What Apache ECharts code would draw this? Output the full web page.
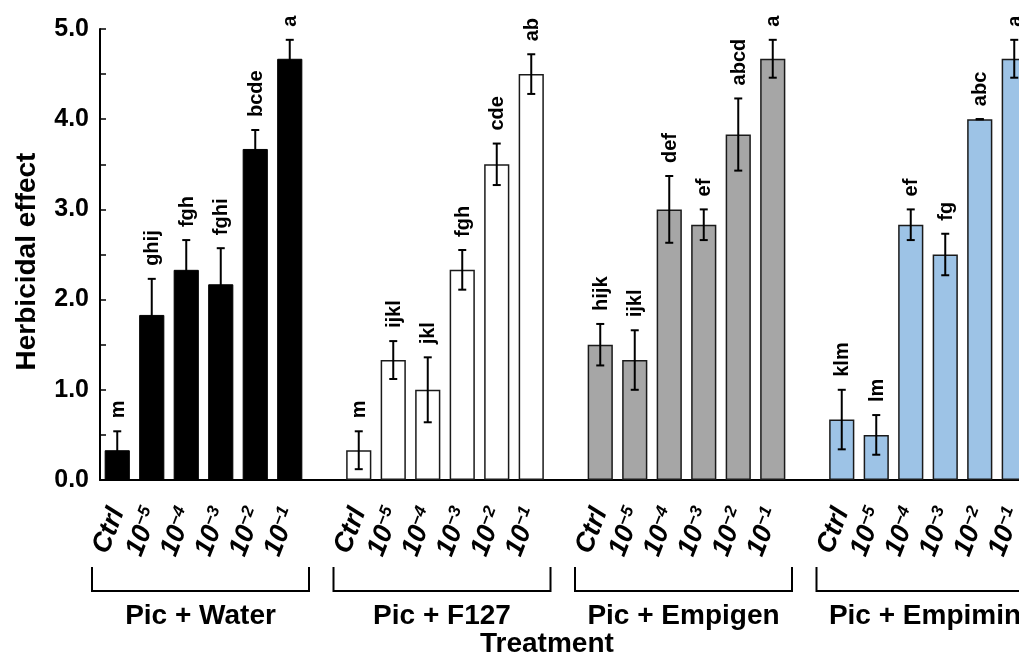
<!DOCTYPE html>
<html>
<head>
<meta charset="utf-8">
<script src="https://cdn.jsdelivr.net/npm/echarts@6/dist/echarts.min.js"></script>
<style>
  html, body { margin: 0; padding: 0; background: #fff; }
  #chart { width: 1019px; height: 664px; }
</style>
</head>
<body>
<div id="chart"></div>
<script>
// ---- Data ----
const groups = ['Pic + Water', 'Pic + F127', 'Pic + Empigen', 'Pic + Empimin'];
const doseLabels = ['Ctrl', '10^−5', '10^−4', '10^−3', '10^−2', '10^−1'];
const yTicks = [0, 1, 2, 3, 4, 5];

const waterMean = [0.33, 1.83, 2.33, 2.17, 3.67, 4.67];
const waterErr = [0.21, 0.40, 0.33, 0.40, 0.21, 0.21];
const waterLetters = ['m', 'ghij', 'fgh', 'fghi', 'bcde', 'a'];

const f127Mean = [0.33, 1.33, 1.00, 2.33, 3.50, 4.50];
const f127Err = [0.21, 0.21, 0.36, 0.22, 0.23, 0.22];
const f127Letters = ['m', 'ijkl', 'jkl', 'fgh', 'cde', 'ab'];

const empigenMean = [1.50, 1.33, 3.00, 2.83, 3.83, 4.67];
const empigenErr = [0.23, 0.33, 0.37, 0.17, 0.40, 0.21];
const empigenLetters = ['hijk', 'ijkl', 'def', 'ef', 'abcd', 'a'];

const empiminMean = [0.67, 0.50, 2.83, 2.50, 4.00, 4.67];
const empiminErr = [0.33, 0.22, 0.17, 0.23, 0.00, 0.21];
const empiminLetters = ['klm', 'lm', 'ef', 'fg', 'abc', 'a'];

// ---- Build ----
const means = [waterMean, f127Mean, empigenMean, empiminMean];
const errs = [waterErr, f127Err, empigenErr, empiminErr];
const letters = [waterLetters, f127Letters, empigenLetters, empiminLetters];

const groupStyles = [
  { color: '#000000', borderColor: '#000000', borderWidth: 1 },
  { color: '#ffffff', borderColor: '#1a1a1a', borderWidth: 1.5 },
  { color: '#a6a6a6', borderColor: '#1a1a1a', borderWidth: 1.5 },
  { color: '#9dc3e6', borderColor: '#1a1a1a', borderWidth: 1.5 }
];

const categories = [];
const barData = [];
const errData = [];
const errLetters = [];
const bracketData = [];
groups.forEach((g, gi) => {
  const first = categories.length;
  doseLabels.forEach((d, di) => {
    const idx = categories.length;
    categories.push(d);
    barData.push({ value: means[gi][di], itemStyle: groupStyles[gi] });
    errData.push([idx, means[gi][di], errs[gi][di]]);
    errLetters.push(letters[gi][di]);
  });
  bracketData.push([first, categories.length - 1]);
  if (gi < groups.length - 1) {
    categories.push('');
    barData.push('-');
  }
});

const FONT = '"Liberation Sans", Arial, sans-serif';

const chart = echarts.init(document.getElementById('chart'), null, { renderer: 'canvas' });

const option = {
  animation: false,
  backgroundColor: '#ffffff',
  grid: {
    left: 100, top: 29, bottom: 184, width: 931.5,
    containLabel: false, outerBoundsMode: 'none'
  },
  xAxis: {
    type: 'category',
    data: categories,
    boundaryGap: true,
    axisLine: { show: true, lineStyle: { color: '#000', width: 2 } },
    axisTick: { show: false },
    axisLabel: {
      interval: 0,
      rotate: 69,
      margin: 29,
      color: '#000',
      formatter: function (v) {
        if (!v) return '';
        const parts = v.split('^');
        if (parts.length === 1) return '{b|' + v + '}';
        return '{b|' + parts[0] + '}{s|' + parts[1] + '}';
      },
      rich: {
        b: { fontFamily: FONT, fontSize: 27, fontWeight: 'bold', fontStyle: 'italic', color: '#000', lineHeight: 28 },
        s: { fontFamily: FONT, fontSize: 17, fontWeight: 'bold', fontStyle: 'italic', color: '#000', lineHeight: 17, verticalAlign: 'top' }
      }
    },
    splitLine: { show: false }
  },
  yAxis: {
    type: 'value',
    min: yTicks[0],
    max: yTicks[yTicks.length - 1],
    interval: 1,
    name: 'Herbicidal effect',
    nameLocation: 'middle',
    nameGap: 59,
    nameRotate: 90,
    nameTextStyle: { fontFamily: FONT, fontSize: 28, fontWeight: 'bold', color: '#000', padding: [0, 14, 0, 0] },
    axisLine: { show: true, lineStyle: { color: '#000', width: 2 } },
    axisTick: { show: true, inside: true, length: 6, lineStyle: { color: '#000', width: 1.5 } },
    minorTick: { show: true, splitNumber: 2, length: 6, lineStyle: { color: '#000', width: 1.5 } },
    axisLabel: {
      margin: 11,
      color: '#000',
      fontFamily: FONT,
      fontSize: 25,
      fontWeight: 'bold',
      formatter: function (v) { return v.toFixed(1); }
    },
    splitLine: { show: false }
  },
  graphic: [
    {
      type: 'text',
      left: 480,
      top: 630,
      style: { text: 'Treatment', font: 'bold 28px ' + FONT, fill: '#000' }
    }
  ],
  series: [
    {
      type: 'bar',
      data: barData,
      barCategoryGap: '27%',
      z: 2
    },
    {
      type: 'custom',
      data: errData,
      clip: false,
      z: 3,
      encode: { x: 0, y: 1 },
      renderItem: function (params, api) {
        const x = api.value(0);
        const v = api.value(1);
        const e = api.value(2);
        const top = api.coord([x, v + e]);
        const bot = api.coord([x, v - e]);
        const hw = 4;
        const lineStyle = { stroke: '#000', lineWidth: 2 };
        return {
          type: 'group',
          children: [
            { type: 'line', shape: { x1: top[0], y1: top[1], x2: bot[0], y2: bot[1] }, style: lineStyle },
            { type: 'line', shape: { x1: top[0] - hw, y1: top[1], x2: top[0] + hw, y2: top[1] }, style: lineStyle },
            { type: 'line', shape: { x1: bot[0] - hw, y1: bot[1], x2: bot[0] + hw, y2: bot[1] }, style: lineStyle },
            {
              type: 'text',
              x: top[0] + 1,
              y: top[1] - 13,
              rotation: Math.PI / 2,
              style: {
                text: errLetters[params.dataIndex],
                fill: '#000',
                font: 'bold 20px ' + FONT,
                align: 'left',
                verticalAlign: 'middle'
              }
            }
          ]
        };
      }
    },
    {
      type: 'custom',
      data: bracketData,
      clip: false,
      z: 3,
      encode: { x: 0 },
      renderItem: function (params, api) {
        const a = api.coord([api.value(0), 0]);
        const b = api.coord([api.value(1), 0]);
        const half = api.size([1, 0])[0] / 2;
        const left = a[0] - half - 8;
        const right = b[0] + half + 2;
        const y0 = a[1];
        return {
          type: 'group',
          children: [
            {
              type: 'polyline',
              shape: { points: [[left, y0 + 87], [left, y0 + 111], [right, y0 + 111], [right, y0 + 87]] },
              style: { stroke: '#000', lineWidth: 2, fill: null }
            },
            {
              type: 'text',
              x: (left + right) / 2,
              y: y0 + 136,
              style: {
                text: groups[params.dataIndex],
                fill: '#000',
                font: 'bold 28px ' + FONT,
                align: 'center',
                verticalAlign: 'middle'
              }
            }
          ]
        };
      }
    }
  ]
};

chart.setOption(option);
</script>
</body>
</html>
